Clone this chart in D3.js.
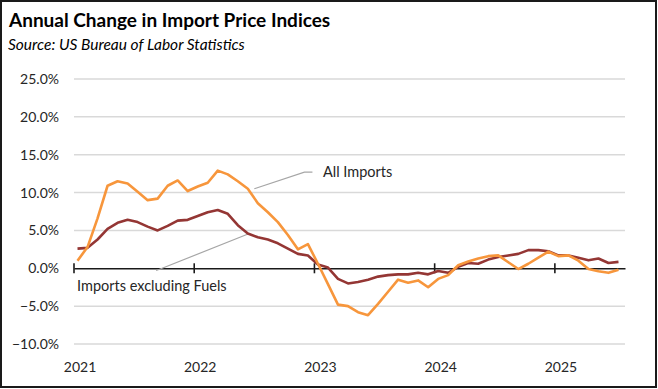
<!DOCTYPE html>
<html>
<head>
<meta charset="utf-8">
<script src="https://cdn.jsdelivr.net/npm/d3@7"></script>
<style>
  body { margin: 0; background: #fff; }
  svg { display: block; font-family: Lato, "Open Sans", sans-serif; }
</style>
</head>
<body>
<div id="chart"></div>
<script>
// monthly, Jan 2021 .. Jul 2025
const years = ["2021", "2022", "2023", "2024", "2025"];
const allImports = [
  1.0, 2.8, 6.6, 10.9, 11.5, 11.2, 10.1, 9.0, 9.2, 10.9, 11.6, 10.2,
  10.8, 11.3, 12.9, 12.4, 11.5, 10.5, 8.6, 7.4, 6.1, 4.4, 2.5, 3.2,
  0.6, -2.1, -4.8, -5.0, -5.8, -6.2, -4.7, -3.1, -1.5, -1.9, -1.6, -2.5,
  -1.4, -0.9, 0.4, 0.9, 1.3, 1.6, 1.7, 0.8, -0.1, 0.6, 1.4, 2.2,
  1.6, 1.7, 1.0, -0.1, -0.4, -0.6, -0.2
];
const exFuels = [
  2.6, 2.7, 3.8, 5.2, 6.0, 6.4, 6.1, 5.5, 5.0, 5.6, 6.3, 6.4,
  6.9, 7.4, 7.7, 7.2, 5.7, 4.6, 4.1, 3.8, 3.3, 2.6, 1.9, 1.7,
  0.5, 0.1, -1.4, -2.0, -1.8, -1.5, -1.1, -0.9, -0.8, -0.8, -0.6, -0.8,
  -0.35, -0.6, 0.2, 0.7, 0.6, 1.15, 1.5, 1.7, 1.9, 2.4, 2.4, 2.25,
  1.7, 1.7, 1.4, 1.05, 1.3, 0.7, 0.85
];
const yTicks = [-10, -5, 0, 5, 10, 15, 20, 25];

const W = 658, H = 389;
const svg = d3.select("#chart").append("svg")
  .attr("width", W).attr("height", H);

svg.append("rect")
  .attr("x", 1).attr("y", 1).attr("width", W - 3).attr("height", H - 3)
  .attr("fill", "#fff").attr("stroke", "#1a1a1a").attr("stroke-width", 2);

// title
svg.append("text")
  .attr("x", 9).attr("y", 27)
  .style("font-size", "19px").style("font-weight", "bold")
  .attr("fill", "#000")
  .text("Annual Change in Import Price Indices");
svg.append("text")
  .attr("x", 8).attr("y", 50)
  .style("font-size", "15.5px").style("font-style", "italic")
  .attr("fill", "#000")
  .text("Source:  US Bureau of Labor Statistics");

// scales
var x = d3.scaleLinear().domain([0, 55]).range([74, 625]);
var y = d3.scaleLinear().domain([-10, 25]).range([344, 79]);

// gridlines
svg.append("g")
  .selectAll("line")
  .data(yTicks.filter(d => d !== 0))
  .enter().append("line")
  .attr("x1", x(0)).attr("x2", x(55))
  .attr("y1", d => y(d)).attr("y2", d => y(d))
  .attr("stroke", "#d9d9d9").attr("stroke-width", 1.5);

// y labels
svg.append("g")
  .call(d3.axisLeft(y).tickValues(yTicks).tickSize(0).tickPadding(0)
    .tickFormat(d => d3.format(".1f")(d) + "%"))
  .attr("transform", "translate(59,0)")
  .call(g => g.select(".domain").remove())
  .selectAll("text")
  .style("font-family", "Lato, sans-serif")
  .style("font-size", "14px")
  .attr("fill", "#262626");

// zero axis with year ticks
var zx = svg.append("g").attr("transform", "translate(0," + y(0) + ")");
zx.call(d3.axisBottom(x).tickValues([0, 12, 24, 36, 48]).tickSize(0).tickFormat(""))
  .call(g => g.select(".domain").attr("stroke", "#1a1a1a").attr("stroke-width", 1.6));
zx.selectAll(".tickmark")
  .data([0, 12, 24, 36, 48])
  .enter().append("line")
  .attr("x1", d => x(d)).attr("x2", d => x(d))
  .attr("y1", -5).attr("y2", 5)
  .attr("stroke", "#1a1a1a").attr("stroke-width", 1.6);

// year labels
svg.append("g")
  .selectAll("text")
  .data(years)
  .enter().append("text")
  .attr("x", (d, i) => x(i * 12 + 0.6))
  .attr("y", 372)
  .attr("text-anchor", "middle")
  .style("font-size", "14px")
  .attr("fill", "#262626")
  .text(d => d);

// leader lines
svg.append("polyline")
  .attr("points", [[x(18.0), y(10.5)], [x(23.0), y(12.7)], [x(23.8), y(12.7)]].join(" "))
  .attr("fill", "none").attr("stroke", "#a6a6a6").attr("stroke-width", 1.2);
svg.append("text")
  .attr("x", 323).attr("y", 177)
  .style("font-size", "14.5px").attr("fill", "#262626")
  .text("All Imports");

svg.append("polyline")
  .attr("points", [[x(8.2), y(-0.3)], [x(8.8), y(0)], [x(17.5), y(4.6)]].join(" "))
  .attr("fill", "none").attr("stroke", "#a6a6a6").attr("stroke-width", 1.2);
svg.append("text")
  .attr("x", 77).attr("y", 291)
  .style("font-size", "14.5px").attr("fill", "#262626")
  .text("Imports excluding Fuels");

// series lines
var line = d3.line()
  .x((d, i) => x(i + 0.35))
  .y(d => y(d));

svg.append("path")
  .datum(exFuels)
  .attr("d", line)
  .attr("fill", "none").attr("stroke", "#943634").attr("stroke-width", 2.6)
  .attr("stroke-linejoin", "round");
svg.append("path")
  .datum(allImports)
  .attr("d", line)
  .attr("fill", "none").attr("stroke", "#f7963c").attr("stroke-width", 2.6)
  .attr("stroke-linejoin", "round");
</script>
</body>
</html>
